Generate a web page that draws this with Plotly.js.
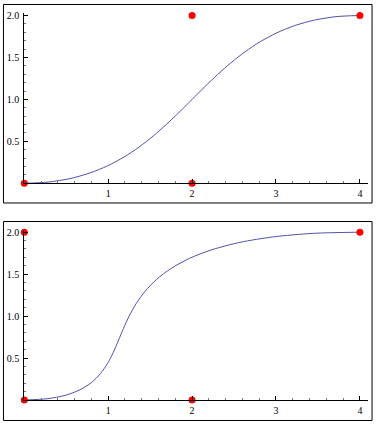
<!DOCTYPE html>
<html>
<head>
<meta charset="utf-8">
<script src="https://cdn.plot.ly/plotly-3.0.1.min.js"></script>
<style>html,body{margin:0;padding:0;background:#fff;}#chart{width:376px;height:426px;}</style>
</head>
<body>
<div id="chart"></div>
<script>
// Top panel: curve readings and control points
const topCurveX = [0, 0.286, 0.544, 0.779, 0.992, 1.188, 1.368, 1.537, 1.696, 1.850, 2.0, 2.150, 2.304, 2.464, 2.632, 2.813, 3.008, 3.222, 3.456, 3.715, 4.0];
const topCurveY = [0, 0.015, 0.056, 0.122, 0.208, 0.313, 0.432, 0.564, 0.704, 0.851, 1.0, 1.150, 1.296, 1.437, 1.568, 1.688, 1.792, 1.879, 1.944, 1.986, 2.0];
const topPointsX = [0, 2, 2, 4];
const topPointsY = [0, 0, 2, 2];

// Bottom panel: curve readings and control points
const botCurveX = [0, 0.271, 0.490, 0.664, 0.800, 0.906, 0.990, 1.059, 1.120, 1.181, 1.250, 1.334, 1.440, 1.576, 1.750, 1.969, 2.240, 2.571, 2.970, 3.444, 4.0];
const botCurveY = [0, 0.015, 0.056, 0.122, 0.208, 0.313, 0.432, 0.564, 0.704, 0.851, 1.0, 1.150, 1.296, 1.437, 1.568, 1.688, 1.792, 1.879, 1.944, 1.986, 2.0];
const botPointsX = [0, 2, 0, 4];
const botPointsY = [0, 0, 2, 2];

// Tick labels
const xTickVals = [1, 2, 3, 4];
const xTickText = ['1', '2', '3', '4'];
const yTickVals = [0.5, 1.0, 1.5, 2.0];
const yTickText = ['0.5', '1.0', '1.5', '2.0'];

const lineColor = '#5151aa';
const dotColor = '#ff0000';

const traces = [
  {x: topCurveX, y: topCurveY, xaxis: 'x', yaxis: 'y', mode: 'lines',
   line: {color: lineColor, width: 1, shape: 'spline', smoothing: 0.8}, hoverinfo: 'none'},
  {x: topPointsX, y: topPointsY, xaxis: 'x', yaxis: 'y', mode: 'markers', cliponaxis: false,
   marker: {color: dotColor, size: 7}, hoverinfo: 'none'},
  {x: botCurveX, y: botCurveY, xaxis: 'x2', yaxis: 'y2', mode: 'lines',
   line: {color: lineColor, width: 1, shape: 'spline', smoothing: 0.8}, hoverinfo: 'none'},
  {x: botPointsX, y: botPointsY, xaxis: 'x2', yaxis: 'y2', mode: 'markers', cliponaxis: false,
   marker: {color: dotColor, size: 7}, hoverinfo: 'none'}
];

const font = {family: '"Liberation Serif", "Times New Roman", serif', size: 10, color: '#000'};

function xAx(anchor) {
  return {
    anchor: anchor, domain: [0.0646, 0.9779], range: [0, 4.093],
    showgrid: false, zeroline: false, showline: true, linecolor: '#000', linewidth: 1,
    ticks: 'inside', ticklen: 4, tickcolor: '#000', tickwidth: 1,
    tickmode: 'array', tickvals: xTickVals, ticktext: xTickText,
    tickfont: font, ticklabelstandoff: 1,
    minor: {tickmode: 'linear', tick0: 0, dtick: 0.2, ticks: 'inside', ticklen: 2, tickcolor: '#777', showgrid: false},
    fixedrange: true
  };
}
function yAx(anchor, dom) {
  return {
    anchor: anchor, domain: dom, range: [0, 2.026],
    showgrid: false, zeroline: false, showline: true, linecolor: '#000', linewidth: 1,
    ticks: 'inside', ticklen: 4, tickcolor: '#000', tickwidth: 1,
    tickmode: 'array', tickvals: yTickVals, ticktext: yTickText,
    tickfont: font, ticklabelstandoff: 2,
    minor: {tickmode: 'linear', tick0: 0, dtick: 0.1, ticks: 'inside', ticklen: 2, tickcolor: '#777', showgrid: false},
    fixedrange: true
  };
}

const layout = {
  width: 376, height: 426,
  margin: {l: 0, r: 0, t: 0, b: 0, pad: 0},
  paper_bgcolor: '#fff', plot_bgcolor: '#fff',
  showlegend: false,
  xaxis: xAx('y'),
  yaxis: yAx('x', [0.5697, 0.9688]),
  xaxis2: xAx('y2'),
  yaxis2: yAx('x2', [0.0610, 0.4601]),
  shapes: [
    {type: 'rect', xref: 'paper', yref: 'paper', x0: 0.0092, x1: 0.9895, y0: 0.5235, y1: 0.9894,
     line: {color: '#000', width: 1}, fillcolor: 'rgba(0,0,0,0)', layer: 'below'},
    {type: 'rect', xref: 'paper', yref: 'paper', x0: 0.0092, x1: 0.9895, y0: 0.0129, y1: 0.4800,
     line: {color: '#000', width: 1}, fillcolor: 'rgba(0,0,0,0)', layer: 'below'}
  ]
};

Plotly.newPlot('chart', traces, layout, {displayModeBar: false, staticPlot: true});
</script>
</body>
</html>
